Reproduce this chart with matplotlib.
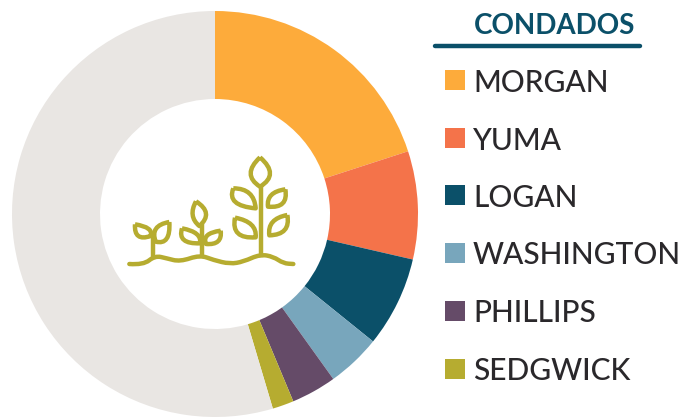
import matplotlib
matplotlib.use("Agg")
import matplotlib.pyplot as plt
from matplotlib.patches import PathPatch, Rectangle
from matplotlib.path import Path

plt.rcParams["font.family"] = ["Lato", "DejaVu Sans"]

# Data (percent of the ring, clockwise from the top)
condados = ["MORGAN", "YUMA", "LOGAN", "WASHINGTON", "PHILLIPS", "SEDGWICK"]
valores = [20.0, 8.6, 7.2, 4.3, 3.6, 1.7]
resto = 54.6
cores = ["#FDAB3B", "#F4734A", "#0B5069", "#78A6BC", "#654B68", "#B6AC30"]
cor_resto = "#E9E6E3"
cor_texto = "#2A282B"
cor_icone = "#B6AC30"

fig = plt.figure(figsize=(6.9, 4.17), dpi=100)

# Overlay in pixel coordinates for legend and icon
tela = fig.add_axes([0, 0, 1, 1])
tela.set_xlim(0, 690)
tela.set_ylim(417, 0)
tela.axis("off")

# Donut
ax = fig.add_axes([12 / 690, 0, 406 / 690, 406 / 417])
ax.pie(
    valores + [resto],
    colors=cores + [cor_resto],
    startangle=90,
    counterclock=False,
    radius=1,
    wedgeprops={"width": 88 / 203, "linewidth": 0},
)
ax.set_xlim(-1, 1)
ax.set_ylim(-1, 1)
ax.set_aspect("equal")
ax.axis("off")

# Title and underline
tela.text(554.5, 23, "CONDADOS", color="#0B5069", fontsize=20, fontweight="bold",
          ha="center", va="center_baseline")
tela.plot([435, 640], [46, 46], color="#0B5069", lw=3.2, solid_capstyle="round")

# Legend
y_legenda = [80, 138, 195, 253, 311, 369]
for nome, cor, y in zip(condados, cores, y_legenda):
    tela.add_patch(Rectangle((445, y - 10), 20, 20, color=cor, lw=0))
    tela.text(473, y, nome, color=cor_texto, fontsize=21.5, fontweight="medium",
              ha="left", va="center_baseline")


def px(p):
    return (110 + p[0] / 3, 140 + p[1] / 3)


def folha(ponta, base, b1, b2):
    ponta, base, b1, b2 = px(ponta), px(base), px(b1), px(b2)
    mx = (ponta[0] + base[0]) / 2
    my = (ponta[1] + base[1]) / 2
    c1 = (2 * b1[0] - mx, 2 * b1[1] - my)
    c2 = (2 * b2[0] - mx, 2 * b2[1] - my)
    caminho = Path([ponta, c1, base, c2, ponta],
                   [Path.MOVETO, Path.CURVE3, Path.CURVE3, Path.CURVE3, Path.CURVE3])
    tela.add_patch(PathPatch(caminho, fill=False, ec=cor_icone, lw=3.2, joinstyle="round"))


folhas = [
    ((450, 52), (450, 140), (422, 100), (480, 100)),
    ((370, 145), (437, 205), (376, 186), (418, 160)),
    ((526, 148), (474, 200), (484, 165), (518, 190)),
    ((375, 233), (437, 292), (384, 280), (424, 254)),
    ((532, 225), (478, 286), (488, 246), (524, 270)),
    ((258, 184), (268, 258), (248, 225), (288, 220)),
    ((216, 265), (270, 310), (222, 300), (260, 282)),
    ((332, 272), (288, 312), (292, 286), (324, 304)),
    ((75, 253), (122, 288), (85, 288), (115, 266)),
    ((178, 246), (137, 305), (138, 266), (170, 296)),
]
for f in folhas:
    folha(*f)

for x, topo, fim in [(128, 295, 350), (277, 258, 345), (452, 140, 345)]:
    tela.plot(*zip(px((x, topo)), px((x, fim))), color=cor_icone, lw=3.2)

solo = [(58, 372), (100, 375), (135, 347), (170, 355), (210, 365), (270, 345), (310, 360),
        (360, 372), (400, 365), (450, 343), (490, 350), (520, 370), (550, 372)]
solo = [px(p) for p in solo]
verts = [solo[0]]
codes = [Path.MOVETO]
for a, b in zip(solo[1:-1], solo[2:]):
    verts += [a, ((a[0] + b[0]) / 2, (a[1] + b[1]) / 2)]
    codes += [Path.CURVE3, Path.CURVE3]
verts.append(solo[-1])
codes.append(Path.LINETO)
tela.add_patch(PathPatch(Path(verts, codes), fill=False, ec=cor_icone, lw=3.2, capstyle="round"))

fig.savefig("out.png", dpi=100)
